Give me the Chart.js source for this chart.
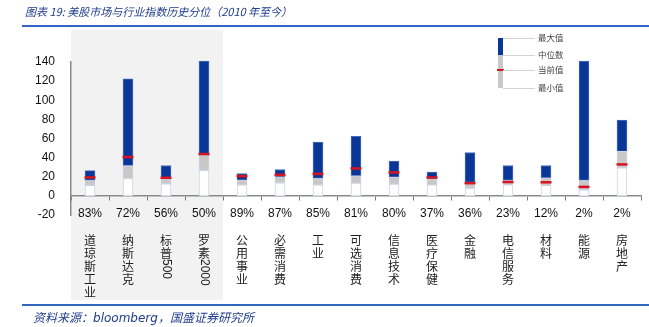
<!DOCTYPE html>
<html>
<head>
<meta charset="utf-8">
<script src="https://cdn.jsdelivr.net/npm/chart.js@4.4.1/dist/chart.umd.min.js"></script>
<style>
  body { margin: 0; background: #fff; }
  #wrap { position: relative; width: 649px; height: 327px; overflow: hidden; }
  #c { position: absolute; left: 0; top: 0; }
  .title { position: absolute; left: 25px; top: 3px; font: italic 11px "Noto Sans CJK SC"; color: #1f3d8c; white-space: nowrap; }
  .rule { position: absolute; left: 22px; right: 0; height: 2px; background: #2e66c0; }
  .src { position: absolute; left: 33px; top: 308px; font: italic 12px "Noto Sans CJK SC"; color: #1f3d8c; white-space: nowrap; }
  .src b { font: italic 12px "DejaVu Sans"; font-weight: normal; }
</style>
</head>
<body>
<div id="wrap">
  <canvas id="c" width="649" height="327"></canvas>
  <div class="title">图表 19: 美股市场与行业指数历史分位（2010 年至今）</div>
  <div class="rule" style="top:25px"></div>
  <div class="rule" style="top:304px"></div>
  <div class="src">资料来源：<b>bloomberg</b>，国盛证券研究所</div>
</div>
<script>
const categories = ["道琼斯工业", "纳斯达克", "标普500", "罗素2000", "公用事业", "必需消费", "工业", "可选消费", "信息技术", "医疗保健", "金融", "电信服务", "材料", "能源", "房地产"];
const percentiles = ["83%", "72%", "56%", "50%", "89%", "87%", "85%", "81%", "80%", "37%", "36%", "23%", "12%", "2%", "2%"];
const minVals = [10.9, 18.2, 12.6, 26.6, 11.5, 13.6, 11.5, 13.3, 12.3, 11.5, 7.7, 11.5, 10.9, 6.3, 29.3];
const medianVals = [16.1, 31.6, 18.2, 42.6, 16.4, 19.9, 18.2, 21.0, 19.6, 17.8, 14.0, 16.1, 18.9, 16.1, 46.5];
const maxVals = [26.4, 122.5, 31.8, 141, 23.4, 27.6, 56.2, 62.2, 36.3, 24.8, 45.4, 31.8, 31.8, 141, 79.3];
const currentVals = [19.3, 40.6, 18.9, 43.7, 20.6, 22.0, 23.0, 28.7, 24.5, 19.2, 13.3, 14.5, 14.2, 9.4, 32.9];
const legendLabels = ["最大值", "中位数", "当前值", "最小值"];

const BLUE = "#0a3797";
const GREY = "#c8c8c8";
const RED = "#d9141e";

// grey backdrop behind the four market indices
const shade = {
  id: "shade",
  beforeDraw(chart) {
    const { ctx, scales: { x } } = chart;
    const right = (x.getPixelForValue(3) + x.getPixelForValue(4)) / 2;
    ctx.save();
    ctx.fillStyle = "#f2f2f2";
    ctx.fillRect(x.left, 30, right - x.left, 270);
    ctx.restore();
  }
};

// vertical category names under the percentages
const nameLabels = {
  id: "nameLabels",
  afterDraw(chart) {
    const { ctx, scales: { x } } = chart;
    ctx.save();
    ctx.fillStyle = "#222";
    ctx.textBaseline = "middle";
    categories.forEach((name, i) => {
      const cx = x.getPixelForValue(i);
      let y = 240;
      name.match(/[0-9]+|./g).forEach(part => {
        if (/^[0-9]+$/.test(part)) {
          ctx.font = '12px "Liberation Sans"';
          const w = ctx.measureText(part).width;
          ctx.save();
          ctx.translate(cx, y - 7);
          ctx.rotate(Math.PI / 2);
          ctx.textAlign = "left";
          ctx.fillText(part, 0, 0);
          ctx.restore();
          y += w + 7;
        } else {
          ctx.font = '12px "Noto Sans CJK SC"';
          ctx.textAlign = "center";
          ctx.fillText(part, cx, y);
          y += 13;
        }
      });
    });
    ctx.restore();
  }
};

// the little key in the top right corner
const keyLegend = {
  id: "keyLegend",
  afterDraw(chart) {
    const ctx = chart.ctx;
    const ys = [38, 55, 70, 88];
    ctx.save();
    ctx.fillStyle = BLUE;
    ctx.fillRect(498, ys[0], 5, ys[1] - ys[0]);
    ctx.fillStyle = GREY;
    ctx.fillRect(498, ys[1], 5, ys[3] - ys[1]);
    ctx.fillStyle = RED;
    ctx.fillRect(497, ys[2] - 1, 7, 2);
    ctx.strokeStyle = "#d4d4d4";
    ctx.lineWidth = 1;
    ctx.font = '8.5px "Noto Sans CJK SC"';
    ctx.textBaseline = "middle";
    ctx.textAlign = "left";
    legendLabels.forEach((t, i) => {
      ctx.beginPath();
      ctx.moveTo(503, ys[i] + 0.5);
      ctx.lineTo(535, ys[i] + 0.5);
      ctx.stroke();
      ctx.fillStyle = "#444";
      ctx.fillText(t, 538, ys[i]);
    });
    ctx.restore();
  }
};

const barBase = { type: "bar", barThickness: 10, grouped: false, borderSkipped: false, borderWidth: 1, order: 1 };

new Chart(document.getElementById("c"), {
  data: {
    labels: categories,
    datasets: [
      { ...barBase, data: minVals.map(v => [0, v]), backgroundColor: "#ffffff", borderColor: "#cbd2e6" },
      { ...barBase, data: minVals.map((v, i) => [v, medianVals[i]]), backgroundColor: GREY, borderColor: "#cfd3df" },
      { ...barBase, data: medianVals.map((v, i) => [v, maxVals[i]]), backgroundColor: BLUE, borderColor: "#4a6cbc", clip: false },
      {
        type: "line", data: currentVals, showLine: false, order: 0,
        pointStyle: "line", pointRadius: 5.5, pointHoverRadius: 5.5,
        pointBorderWidth: 2.5, pointBorderColor: RED, pointBackgroundColor: RED
      }
    ]
  },
  options: {
    responsive: false,
    animation: false,
    layout: { padding: { top: 62, bottom: 112, left: 0, right: 3 } },
    plugins: { legend: { display: false }, tooltip: { enabled: false } },
    scales: {
      x: {
        position: { y: 0 },
        offset: true,
        grid: { offset: true, drawOnChartArea: false, tickLength: 4, color: "#777", lineWidth: 1 },
        border: { color: "#8a8a8a", width: 1.5 },
        ticks: {
          padding: 7,
          color: "#111",
          font: { family: "Liberation Sans", size: 12 },
          maxRotation: 0,
          autoSkip: false,
          callback: (v, i) => percentiles[i]
        }
      },
      y: {
        min: -20,
        max: 140,
        afterFit: s => { s.width = 71; },
        grid: { display: false, drawTicks: false },
        border: { color: "#8a8a8a", width: 1.5 },
        ticks: {
          stepSize: 20,
          padding: 16,
          color: "#111",
          font: { family: "Liberation Sans", size: 12 }
        }
      }
    }
  },
  plugins: [shade, nameLabels, keyLegend]
});
</script>
</body>
</html>
